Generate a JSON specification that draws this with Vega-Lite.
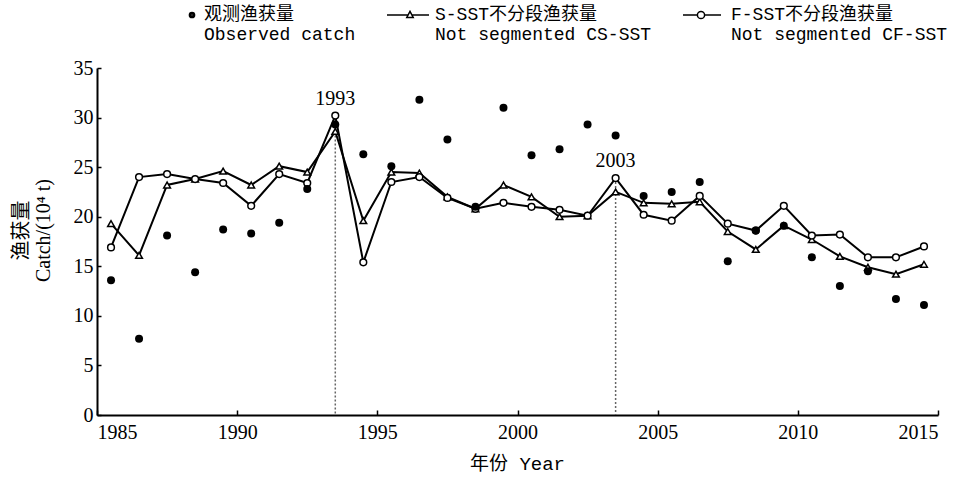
{
  "$schema": "https://vega.github.io/schema/vega-lite/v6.json",
  "width": 841,
  "height": 347,
  "autosize": "none",
  "padding": {"left": 97, "top": 68, "right": 21, "bottom": 62},
  "background": "white",
  "config": {
    "view": {"stroke": null},
    "axis": {"grid": false, "domainColor": "black", "domainWidth": 2, "tickColor": "black", "tickWidth": 1.5, "labelColor": "black", "titleColor": "black", "labelFont": "Liberation Serif", "labelFontSize": 20, "titleFontWeight": "normal"}
  },
  "datasets": {
    "catch": [
      {"year": 1985.5, "obs": 13.6, "s": 19.3, "f": 16.9},
      {"year": 1986.5, "obs": 7.7, "s": 16.1, "f": 24.0},
      {"year": 1987.5, "obs": 18.1, "s": 23.2, "f": 24.3},
      {"year": 1988.5, "obs": 14.4, "s": 23.8, "f": 23.8},
      {"year": 1989.5, "obs": 18.7, "s": 24.6, "f": 23.4},
      {"year": 1990.5, "obs": 18.3, "s": 23.2, "f": 21.1},
      {"year": 1991.5, "obs": 19.4, "s": 25.1, "f": 24.3},
      {"year": 1992.5, "obs": 22.8, "s": 24.5, "f": 23.4},
      {"year": 1993.5, "obs": 29.3, "s": 28.6, "f": 30.2},
      {"year": 1994.5, "obs": 26.3, "s": 19.6, "f": 15.4},
      {"year": 1995.5, "obs": 25.1, "s": 24.5, "f": 23.5},
      {"year": 1996.5, "obs": 31.8, "s": 24.4, "f": 24.0},
      {"year": 1997.5, "obs": 27.8, "s": 22.0, "f": 21.9},
      {"year": 1998.5, "obs": 21.0, "s": 20.8, "f": 20.8},
      {"year": 1999.5, "obs": 31.0, "s": 23.2, "f": 21.4},
      {"year": 2000.5, "obs": 26.2, "s": 22.0, "f": 21.0},
      {"year": 2001.5, "obs": 26.8, "s": 20.0, "f": 20.7},
      {"year": 2002.5, "obs": 29.3, "s": 20.1, "f": 20.1},
      {"year": 2003.5, "obs": 28.2, "s": 22.5, "f": 23.9},
      {"year": 2004.5, "obs": 22.1, "s": 21.4, "f": 20.2},
      {"year": 2005.5, "obs": 22.5, "s": 21.3, "f": 19.6},
      {"year": 2006.5, "obs": 23.5, "s": 21.5, "f": 22.1},
      {"year": 2007.5, "obs": 15.5, "s": 18.5, "f": 19.3},
      {"year": 2008.5, "obs": 18.6, "s": 16.7, "f": 18.6},
      {"year": 2009.5, "obs": 19.1, "s": 19.1, "f": 21.1},
      {"year": 2010.5, "obs": 15.9, "s": 17.7, "f": 18.1},
      {"year": 2011.5, "obs": 13.0, "s": 16.0, "f": 18.2},
      {"year": 2012.5, "obs": 14.5, "s": 14.9, "f": 15.9},
      {"year": 2013.5, "obs": 11.7, "s": 14.2, "f": 15.9},
      {"year": 2014.5, "obs": 11.1, "s": 15.2, "f": 17.0}
    ],
    "marks": [
      {"year": 1993.5, "top": 30.2, "base": 0, "label": "1993"},
      {"year": 2003.5, "top": 23.9, "base": 0, "label": "2003"}
    ]
  },
  "layer": [
    {
      "data": {"name": "marks"},
      "mark": {"type": "rule", "color": "#666", "strokeWidth": 1.5, "strokeDash": [2, 2]},
      "encoding": {
        "x": {"field": "year", "type": "quantitative"},
        "y": {"field": "top", "type": "quantitative"},
        "y2": {"field": "base"}
      }
    },
    {
      "data": {"name": "marks"},
      "mark": {"type": "text", "font": "Liberation Serif", "fontSize": 20, "dy": -17, "color": "black"},
      "encoding": {
        "x": {"field": "year", "type": "quantitative"},
        "y": {"field": "top", "type": "quantitative"},
        "text": {"field": "label", "type": "nominal"}
      }
    },
    {
      "data": {"name": "catch"},
      "transform": [{"fold": ["s", "f"], "as": ["series", "value"]}],
      "mark": {"type": "line", "color": "black", "strokeWidth": 2},
      "encoding": {
        "x": {
          "field": "year", "type": "quantitative",
          "scale": {"domain": [1985, 2015], "nice": false, "zero": false},
          "axis": {"values": [1985, 1990, 1995, 2000, 2005, 2010, 2015], "format": "d", "tickSize": -5, "labelPadding": 12, "title": "年份 Year", "titleColor": "black", "titleFont": "Liberation Mono, Noto Sans CJK SC", "titleFontSize": 19, "titleX": 420, "titleY": 48, "titleBaseline": "middle"}
        },
        "y": {
          "field": "value", "type": "quantitative",
          "scale": {"domain": [0, 35], "nice": false},
          "axis": {"values": [0, 5, 10, 15, 20, 25, 30, 35], "tickSize": -4, "labelPadding": 8, "title": ["渔获量", "Catch/(10⁴ t)"], "titleColor": "black", "titleFont": "Liberation Serif, Noto Sans CJK SC", "titleFontSize": 20, "titleAngle": -90, "titleX": -76, "titleY": 162, "titleAlign": "center", "titleBaseline": "middle", "titleLineHeight": 22}
        },
        "detail": {"field": "series", "type": "nominal"}
      }
    },
    {
      "data": {"name": "catch"},
      "transform": [{"fold": ["s"], "as": ["series", "value"]}],
      "mark": {"type": "point", "shape": "triangle-up", "filled": false, "fill": "white", "stroke": "black", "strokeWidth": 1.5, "size": 45, "opacity": 1},
      "encoding": {
        "x": {"field": "year", "type": "quantitative"},
        "y": {"field": "value", "type": "quantitative"}
      }
    },
    {
      "data": {"name": "catch"},
      "transform": [{"fold": ["f"], "as": ["series", "value"]}],
      "mark": {"type": "point", "shape": "circle", "filled": false, "fill": "white", "stroke": "black", "strokeWidth": 1.5, "size": 45, "opacity": 1},
      "encoding": {
        "x": {"field": "year", "type": "quantitative"},
        "y": {"field": "value", "type": "quantitative"}
      }
    },
    {
      "data": {"name": "catch"},
      "transform": [{"fold": ["obs"], "as": ["series", "value"]}],
      "mark": {"type": "point", "shape": "circle", "filled": true, "color": "black", "size": 64, "opacity": 1},
      "encoding": {
        "x": {"field": "year", "type": "quantitative"},
        "y": {"field": "value", "type": "quantitative"}
      }
    },
    {
      "data": {"name": "catch"},
      "transform": [{"fold": ["obs", "s", "f"], "as": ["series", "value"]}, {"filter": "false"}],
      "mark": {"type": "point", "filled": false, "strokeWidth": 1.5},
      "encoding": {
        "x": {"field": "year", "type": "quantitative"},
        "y": {"field": "value", "type": "quantitative"},
        "shape": {
          "field": "series", "type": "nominal",
          "scale": {"domain": ["obs", "s", "f"], "range": [
            "M-0.65,0A0.65,0.65 0 1,0 0.65,0A0.65,0.65 0 1,0 -0.65,0M-0.3,0A0.3,0.3 0 1,0 0.3,0A0.3,0.3 0 1,0 -0.3,0M-0.05,0A0.05,0.05 0 1,0 0.05,0A0.05,0.05 0 1,0 -0.05,0",
            "M-9,0L-3.73,0M-2.77,0L1.5,0M-3.25,-0.9L-2.45,0.6L-4.05,0.6Z",
            "M-9,0L-5.4,0M-3.6,0L0.5,0M-5.4,0A0.9,0.9 0 1,0 -3.6,0A0.9,0.9 0 1,0 -5.4,0Z"
          ]},
          "legend": {
            "title": null, "orient": "none", "direction": "horizontal", "legendX": 86, "legendY": -62,
            "columnPadding": 28,
            "symbolSize": 64, "symbolStrokeWidth": 1.5, "symbolOpacity": 1,
            "labelFont": "Liberation Mono, Noto Sans CJK SC", "labelFontSize": 18, "labelColor": "black", "labelOffset": 3, "labelLimit": 400, "labelBaseline": "middle",
            "labelExpr": "datum.value === 'obs' ? ['观测渔获量', 'Observed catch'] : datum.value === 's' ? ['S-SST不分段渔获量', 'Not segmented CS-SST'] : ['F-SST不分段渔获量', 'Not segmented CF-SST']"
          }
        },
        "stroke": {
          "field": "series", "type": "nominal",
          "scale": {"domain": ["obs", "s", "f"], "range": ["black", "black", "black"]}
        }
      }
    }
  ]
}
